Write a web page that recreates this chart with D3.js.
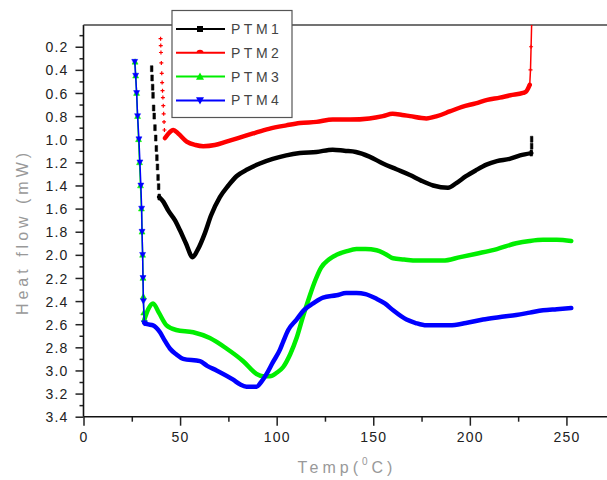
<!DOCTYPE html>
<html lang="en">
<head>
<meta charset="utf-8">
<title>DSC heat flow - PTM</title>
<script src="https://cdn.jsdelivr.net/npm/d3@7/dist/d3.min.js"></script>
<style>
	body { margin: 0; background: #ffffff; overflow: hidden; }
	text { font-family: "Liberation Sans", Arial, sans-serif; }
	.tick text { fill: #222; font-size: 14px; letter-spacing: 1.2px; }
	.title { fill: #999; font-size: 16px; letter-spacing: 4px; }
</style>
</head>
<body>
<svg id="chart" width="607" height="480"></svg>
<script>
// ---- data (temp in degC, heat flow in mW) ----
var xTicks = [0, 50, 100, 150, 200, 250];
var yTicks = [0.2, 0.4, 0.6, 0.8, 1.0, 1.2, 1.4, 1.6, 1.8, 2.0, 2.2, 2.4, 2.6, 2.8, 3.0, 3.2, 3.4];
var names = ["PTM1", "PTM2", "PTM3", "PTM4"];
var colors = ["#000000", "#ff0000", "#00ee00", "#0000ff"];

// steep start of each run (drawn with markers)
var ptm1RampT = [35.3, 35.5, 35.8, 36.0, 36.3, 36.6, 37.0, 37.4, 37.7, 38.0, 38.3, 38.6, 38.9, 39.2];
var ptm1RampV = [0.39, 0.47, 0.55, 0.62, 0.73, 0.80, 0.90, 0.99, 1.08, 1.16, 1.24, 1.33, 1.41, 1.50];
var ptm1T = [39.2, 41.3, 44, 47.3, 50, 53, 56.5, 59, 62.9, 66, 70.6, 75, 79.2, 85, 91.3, 98, 105, 112, 120.6, 129, 135, 141, 148, 155, 162, 169, 175, 181, 188.7, 193, 198, 203, 208.6, 214, 220.6, 226, 231.8];
var ptm1V = [1.50, 1.54, 1.62, 1.70, 1.79, 1.90, 2.02, 1.96, 1.81, 1.66, 1.50, 1.40, 1.32, 1.26, 1.21, 1.17, 1.14, 1.12, 1.11, 1.09, 1.10, 1.11, 1.15, 1.21, 1.26, 1.31, 1.36, 1.40, 1.42, 1.38, 1.32, 1.27, 1.22, 1.19, 1.17, 1.14, 1.12];
var ptm1TailT = [231.8, 232.0, 232.0];
var ptm1TailV = [1.12, 1.06, 1.00];

var ptm2RampT = [39.9, 40.0, 40.1, 40.3, 40.5, 40.7, 40.9, 41.1, 41.3, 41.5, 41.7, 41.9, 42.2];
var ptm2RampV = [0.13, 0.19, 0.25, 0.34, 0.43, 0.51, 0.58, 0.64, 0.71, 0.78, 0.85, 0.92, 0.99];
var ptm2T = [42.2, 44, 46.5, 49, 53.4, 58, 62, 68, 74, 80, 87.8, 96, 105, 112, 120.6, 129, 138, 148, 155, 160, 165, 169, 177.5, 183, 189.6, 196, 203, 209, 215.5, 221, 227.5, 229, 231];
var ptm2V = [0.99, 0.95, 0.92, 0.95, 1.02, 1.05, 1.06, 1.05, 1.02, 0.99, 0.95, 0.91, 0.88, 0.86, 0.85, 0.83, 0.83, 0.82, 0.80, 0.78, 0.79, 0.80, 0.82, 0.80, 0.76, 0.72, 0.69, 0.66, 0.64, 0.62, 0.60, 0.59, 0.53];
var ptm2TailT = [231, 231.4, 231.7, 232];
var ptm2TailV = [0.53, 0.40, 0.20, 0.0];

var ptm3RampT = [26.7, 27.0, 27.5, 28.0, 28.5, 29.0, 29.5, 30.0, 30.3, 30.6, 30.8, 31.0, 31.2, 31.5];
var ptm3RampV = [0.33, 0.45, 0.60, 0.80, 1.00, 1.20, 1.40, 1.60, 1.80, 2.00, 2.20, 2.36, 2.50, 2.56];
var ptm3T = [31.5, 33.5, 36, 39, 43, 48, 56.8, 65.4, 74, 82.7, 89.6, 93, 96.5, 100, 103.4, 107, 110.3, 113.5, 117, 120, 123, 127, 131, 136, 141.3, 146, 151.7, 156, 160.3, 166, 172.4, 180, 186, 195, 203.4, 214, 224, 231, 237.9, 245, 252.5];
var ptm3V = [2.56, 2.47, 2.42, 2.50, 2.61, 2.65, 2.67, 2.72, 2.81, 2.92, 3.03, 3.05, 3.05, 3.02, 2.97, 2.86, 2.72, 2.54, 2.36, 2.22, 2.11, 2.04, 2.00, 1.97, 1.95, 1.95, 1.96, 1.99, 2.03, 2.04, 2.05, 2.05, 2.05, 2.02, 1.99, 1.95, 1.90, 1.88, 1.87, 1.87, 1.88];

var ptm4RampT = [26.5, 27.0, 27.5, 28.0, 28.7, 29.2, 29.7, 30.1, 30.3, 30.6, 30.8, 31.0, 31.5];
var ptm4RampV = [0.33, 0.45, 0.60, 0.80, 1.00, 1.20, 1.40, 1.60, 1.80, 2.00, 2.20, 2.40, 2.59];
var ptm4T = [31.5, 33, 36, 39.6, 42, 44.7, 48, 51.6, 60.3, 64, 68.9, 77.5, 81, 84.4, 89.6, 92, 94.8, 98, 101.7, 103.4, 106, 110.3, 114, 118.9, 124, 131, 136, 141.3, 146, 151.7, 156, 160.3, 167.2, 172, 177.5, 183, 189.6, 198, 206.8, 215, 224, 231, 237.9, 245, 252.5];
var ptm4V = [2.59, 2.60, 2.61, 2.67, 2.74, 2.81, 2.86, 2.90, 2.92, 2.96, 3.00, 3.08, 3.12, 3.14, 3.14, 3.10, 3.03, 2.93, 2.82, 2.75, 2.65, 2.56, 2.48, 2.42, 2.37, 2.35, 2.33, 2.33, 2.34, 2.38, 2.42, 2.48, 2.56, 2.59, 2.61, 2.61, 2.61, 2.59, 2.56, 2.54, 2.52, 2.50, 2.48, 2.47, 2.46];

function zip(ts, vs) { return ts.map(function(t, i) { return [t, vs[i]]; }); }

var series = [
	{ ramp: zip(ptm1RampT, ptm1RampV), main: zip(ptm1T, ptm1V), tail: zip(ptm1TailT, ptm1TailV), marker: "square", rampLine: false },
	{ ramp: zip(ptm2RampT, ptm2RampV), main: zip(ptm2T, ptm2V), tail: zip(ptm2TailT, ptm2TailV), marker: "cross", rampLine: false },
	{ ramp: zip(ptm3RampT, ptm3RampV), main: zip(ptm3T, ptm3V), tail: [], marker: "up", rampLine: true },
	{ ramp: zip(ptm4RampT, ptm4RampV), main: zip(ptm4T, ptm4V), tail: [], marker: "down", rampLine: true }
];

var svg = d3.select("#chart");
var pLeft = 83.5, pRight = 607, pTop = 25, pBottom = 416.7;

var x = d3.scaleLinear().domain([0, 271]).range([pLeft, pRight]);
var y = d3.scaleLinear().domain([0.012, 3.4]).range([pTop, pBottom]);

svg.append("defs").append("clipPath").attr("id", "clip")
	.append("rect").attr("x", pLeft).attr("y", pTop).attr("width", pRight - pLeft).attr("height", pBottom - pTop);

// minor ticks
svg.append("g").attr("transform", "translate(0," + pBottom + ")")
	.call(d3.axisBottom(x).tickValues([25, 75, 125, 175, 225]).tickSize(5).tickFormat(""))
	.call(function(g) { g.select(".domain").remove(); g.selectAll("line").attr("stroke", "#222").attr("stroke-width", 1.5); });
svg.append("g").attr("transform", "translate(" + pLeft + ",0)")
	.call(d3.axisLeft(y).tickValues(d3.range(0.1, 3.35, 0.2)).tickSize(4).tickFormat(""))
	.call(function(g) { g.select(".domain").remove(); g.selectAll("line").attr("stroke", "#222").attr("stroke-width", 1.5); });

// major axes
var xAxis = svg.append("g").attr("transform", "translate(0," + pBottom + ")")
	.call(d3.axisBottom(x).tickValues(xTicks).tickSize(9).tickPadding(6).tickSizeOuter(0).tickFormat(d3.format("d")));
var yAxis = svg.append("g").attr("transform", "translate(" + pLeft + ",0)")
	.call(d3.axisLeft(y).tickValues(yTicks).tickSize(8).tickPadding(7).tickSizeOuter(0).tickFormat(d3.format(".1f")));
[xAxis, yAxis].forEach(function(g) {
	g.select(".domain").attr("stroke", "#111").attr("stroke-width", 1.6);
	g.selectAll(".tick line").attr("stroke", "#222").attr("stroke-width", 1.5);
	g.selectAll(".tick text").attr("font-size", null).attr("font-family", null);
});
yAxis.selectAll(".tick text").attr("dy", "0.36em");
// x axis runs to the right edge, plus the top frame line
xAxis.select(".domain").attr("d", "M" + pLeft + ",0H" + pRight);
svg.append("line").attr("x1", pLeft).attr("x2", pRight).attr("y1", pTop).attr("y2", pTop)
	.attr("stroke", "#444").attr("stroke-width", 1.5);
yAxis.select(".domain").attr("d", "M0," + pTop + "V" + pBottom);

// markers
function markerPath(type, s) {
	if (type === "square") return "M-1.3," + (-s) + "h2.6v" + (2 * s) + "h-2.6z";
	if (type === "cross") return "M-2,0H2M0,-2V2";
	if (type === "up") return "M0," + (-s) + "L" + s + "," + (s * 0.8) + "L" + (-s) + "," + (s * 0.8) + "Z";
	return "M0," + s + "L" + s + "," + (-s * 0.8) + "L" + (-s) + "," + (-s * 0.8) + "Z";
}

var plot = svg.append("g").attr("clip-path", "url(#clip)");
var mainLine = d3.line().x(function(d) { return x(d[0]); }).y(function(d) { return y(d[1]); }).curve(d3.curveMonotoneX);
var thinLine = d3.line().x(function(d) { return x(d[0]); }).y(function(d) { return y(d[1]); });

series.forEach(function(s, i) {
	var c = colors[i];
	var g = plot.append("g");
	if (s.rampLine) {
		g.append("path").attr("d", thinLine(s.ramp)).attr("fill", "none").attr("stroke", c).attr("stroke-width", 1.5);
	}
	g.selectAll(".m").data(s.ramp.concat(s.tail)).enter().append("path")
		.attr("transform", function(d) { return "translate(" + x(d[0]) + "," + y(d[1]) + ")"; })
		.attr("d", markerPath(s.marker, 3))
		.attr("fill", c).attr("stroke", c).attr("stroke-width", s.marker === "cross" ? 1.2 : 0.5);
	g.append("path").attr("d", mainLine(s.main)).attr("fill", "none").attr("stroke", c)
		.attr("stroke-width", 4.5).attr("stroke-linejoin", "round").attr("stroke-linecap", "round");
	if (i === 1) {
		g.append("path").attr("d", thinLine(s.tail)).attr("fill", "none").attr("stroke", c).attr("stroke-width", 1.5);
	}
});

// legend
var legend = svg.append("g");
legend.append("rect").attr("x", 172).attr("y", 10.5).attr("width", 120).attr("height", 107)
	.attr("fill", "#fff").attr("stroke", "#555").attr("stroke-width", 1.2);
var legendMarks = ["square", "dot", "up", "down"];
names.forEach(function(n, i) {
	var ly = 29 + i * 23.8;
	legend.append("line").attr("x1", 176).attr("x2", 225).attr("y1", ly).attr("y2", ly)
		.attr("stroke", colors[i]).attr("stroke-width", 2);
	var m = legendMarks[i];
	if (m === "dot") {
		legend.append("path").attr("d", "M196.5," + ly + "a3.5,3 0 0 1 7,0z").attr("fill", colors[i]);
	} else {
		legend.append("path").attr("transform", "translate(200," + ly + ")")
			.attr("d", m === "square" ? "M-3,-3h6v6h-6z" : markerPath(m, 4)).attr("fill", colors[i]);
	}
	legend.append("text").attr("x", 231).attr("y", ly).attr("dy", "0.36em")
		.attr("fill", "#444").attr("font-size", 14).attr("letter-spacing", 3.5).text(n);
});

// axis titles
var xt = svg.append("text").attr("class", "title").attr("x", 347).attr("y", 473).attr("text-anchor", "middle");
xt.append("tspan").text("Temp(");
xt.append("tspan").attr("font-size", 10).attr("dy", -8).text("0");
xt.append("tspan").attr("dy", 8).text("C)");

svg.append("text").attr("class", "title").attr("transform", "translate(28,232) rotate(-90)")
	.attr("text-anchor", "middle").text("Heat flow (mW)");
</script>
</body>
</html>
